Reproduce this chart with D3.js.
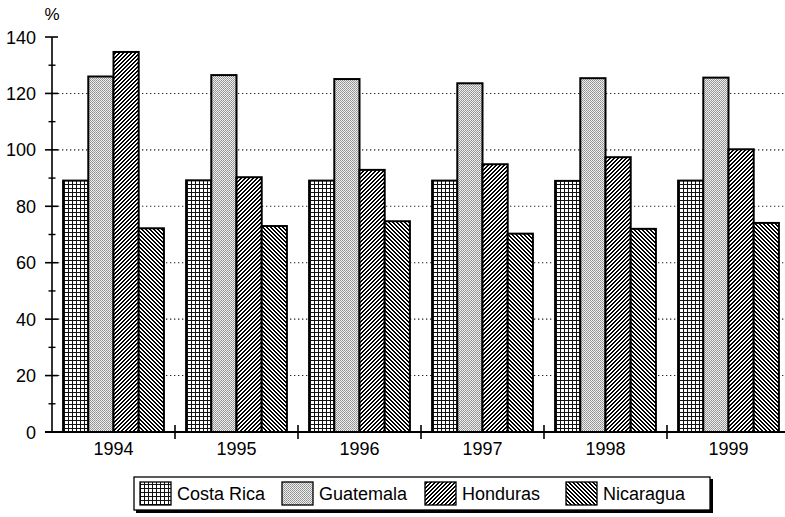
<!DOCTYPE html>
<html>
<head>
<meta charset="utf-8">
<script src="https://cdn.jsdelivr.net/npm/d3@7"></script>
<style>
  html, body { margin: 0; padding: 0; background: #fff; }
  svg { display: block; font-family: "Liberation Sans", Arial, Helvetica, sans-serif; }
</style>
</head>
<body>
<svg id="chart" width="785" height="517"></svg>
<script>
// Years on the category axis
const years = ["1994", "1995", "1996", "1997", "1998", "1999"];
// Country series (percent)
const countries = ["Costa Rica", "Guatemala", "Honduras", "Nicaragua"];
const costaRica = [89.1, 89.2, 89.1, 89.1, 89.0, 89.1];
const guatemala = [126.0, 126.5, 125.1, 123.6, 125.4, 125.6];
const honduras  = [134.7, 90.3, 92.9, 94.9, 97.4, 100.2];
const nicaragua = [72.2, 73.0, 74.7, 70.3, 72.0, 74.1];
// Value-axis ticks
const majorTicks = [0, 20, 40, 60, 80, 100, 120, 140];
const minorTicks = [10, 30, 50, 70, 90, 110, 130];
const gridTicks = [20, 40, 60, 80, 100, 120];

const seriesValues = [costaRica, guatemala, honduras, nicaragua];
const table = years.map((y, i) => ({
  year: y,
  values: countries.map((c, k) => ({ country: c, value: seriesValues[k][i] }))
}));

const svg = d3.select("#chart");
const defs = svg.append("defs");

// Fill patterns, one per country
function gridPattern(id) {
  const p = defs.append("pattern").attr("id", id).attr("patternUnits", "userSpaceOnUse")
    .attr("width", 4).attr("height", 4);
  p.append("rect").attr("width", 4).attr("height", 4).attr("fill", "#fff");
  p.append("rect").attr("x", 0).attr("y", 0).attr("width", 4).attr("height", 1).attr("fill", "#111");
  p.append("rect").attr("x", 0).attr("y", 0).attr("width", 1).attr("height", 4).attr("fill", "#111");
}
function stipplePattern(id) {
  const p = defs.append("pattern").attr("id", id).attr("patternUnits", "userSpaceOnUse")
    .attr("width", 2).attr("height", 2);
  p.append("rect").attr("width", 2).attr("height", 2).attr("fill", "#eeeeee");
  p.append("rect").attr("x", 0).attr("y", 0).attr("width", 1).attr("height", 1).attr("fill", "#8e8e8e");
  p.append("rect").attr("x", 1).attr("y", 1).attr("width", 1).attr("height", 1).attr("fill", "#a0a0a0");
}
// Pixel diagonal hatching: dir > 0 rises to the right, dir < 0 falls
function hatchPattern(id, dir) {
  const s = 4;
  const p = defs.append("pattern").attr("id", id).attr("patternUnits", "userSpaceOnUse")
    .attr("width", s).attr("height", s);
  p.append("rect").attr("width", s).attr("height", s).attr("fill", "#fff");
  for (let i = 0; i < s; i++) {
    const px = dir > 0 ? (s - 1 - i) : i;
    p.append("rect").attr("x", px).attr("y", i).attr("width", 2).attr("height", 1).attr("fill", "#000");
    if (px === s - 1) p.append("rect").attr("x", 0).attr("y", i).attr("width", 1).attr("height", 1).attr("fill", "#000");
  }
}
gridPattern("pat-cr");
stipplePattern("pat-gt");
hatchPattern("pat-hn", 1);
hatchPattern("pat-ni", -1);
const fills = d3.scaleOrdinal().domain(countries)
  .range(["url(#pat-cr)", "url(#pat-gt)", "url(#pat-hn)", "url(#pat-ni)"]);

// Scales
const x0 = d3.scaleBand().domain(years).range([52, 790]).padding(0);
const x1 = d3.scaleBand().domain(countries).range([0, x0.bandwidth()])
  .paddingInner(0).paddingOuter(0.44);
const y = d3.scaleLinear().domain([0, 140]).range([432, 37]);

// Dotted horizontal gridlines
svg.append("g").selectAll("line").data(gridTicks).join("line")
  .attr("x1", 58).attr("x2", 790)
  .attr("y1", d => y(d)).attr("y2", d => y(d))
  .attr("stroke", "#222").attr("stroke-width", 1.1)
  .attr("stroke-dasharray", "1.3,2.7");

// Bars
const groups = svg.append("g").selectAll("g").data(table).join("g")
  .attr("transform", d => `translate(${x0(d.year)},0)`);
groups.selectAll("rect").data(d => d.values).join("rect")
  .attr("x", d => x1(d.country))
  .attr("y", d => y(d.value))
  .attr("width", x1.bandwidth())
  .attr("height", d => y(0) - y(d.value))
  .attr("fill", d => fills(d.country))
  .attr("stroke", "#000").attr("stroke-width", 2);

// Value axis
const yAxis = svg.append("g").attr("stroke", "#000");
yAxis.append("line").attr("x1", 52).attr("x2", 52).attr("y1", y(140)).attr("y2", y(0))
  .attr("stroke-width", 1.6);
yAxis.selectAll("line.major").data(majorTicks).join("line").attr("class", "major")
  .attr("x1", 45).attr("x2", 58).attr("y1", d => y(d)).attr("y2", d => y(d))
  .attr("stroke-width", 1.6);
yAxis.selectAll("line.minor").data(minorTicks).join("line").attr("class", "minor")
  .attr("x1", 48.5).attr("x2", 55.5).attr("y1", d => y(d)).attr("y2", d => y(d))
  .attr("stroke-width", 1.4);
svg.append("g").selectAll("text").data(majorTicks).join("text")
  .attr("x", 36).attr("y", d => y(d) + 6.5)
  .attr("text-anchor", "end").attr("font-size", 18).attr("fill", "#000")
  .text(d => d);
svg.append("text").attr("x", 52).attr("y", 20).attr("text-anchor", "middle")
  .attr("font-size", 17).attr("fill", "#000").text("%");

// Category axis
const xAxis = svg.append("g").attr("stroke", "#000");
xAxis.append("line").attr("x1", 45).attr("x2", 790).attr("y1", y(0)).attr("y2", y(0))
  .attr("stroke-width", 1.8);
xAxis.selectAll("line.tick").data(years.slice(1)).join("line").attr("class", "tick")
  .attr("x1", d => x0(d)).attr("x2", d => x0(d))
  .attr("y1", y(0) - 7).attr("y2", y(0) + 7).attr("stroke-width", 1.6);
svg.append("g").selectAll("text").data(years).join("text")
  .attr("x", d => x0(d) + x0.bandwidth() / 2).attr("y", 455)
  .attr("text-anchor", "middle").attr("font-size", 18).attr("fill", "#000")
  .text(d => d);

// Legend
const legend = svg.append("g");
legend.append("rect").attr("x", 136).attr("y", 479).attr("width", 577).attr("height", 34)
  .attr("fill", "#000");
legend.append("rect").attr("x", 134).attr("y", 477).attr("width", 576).attr("height", 33)
  .attr("fill", "#fff").attr("stroke", "#000").attr("stroke-width", 1.3);
const swatchX = [140, 282, 425, 566];
const items = legend.selectAll("g").data(countries).join("g")
  .attr("transform", (d, i) => `translate(${swatchX[i]},0)`);
items.append("rect").attr("x", 0).attr("y", 482).attr("width", 31).attr("height", 23)
  .attr("fill", d => fills(d)).attr("stroke", "#000").attr("stroke-width", 1.3);
items.append("text").attr("x", 37).attr("y", 500).attr("font-size", 18).attr("fill", "#000")
  .text(d => d);
</script>
</body>
</html>
